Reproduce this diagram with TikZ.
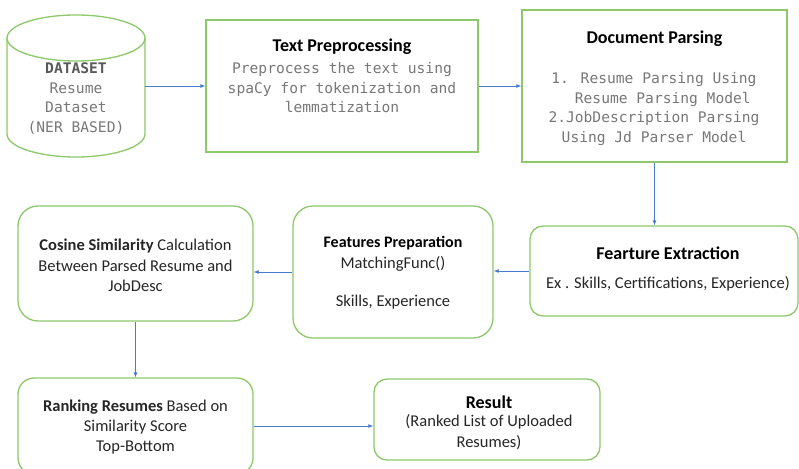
\documentclass[tikz,border=0pt]{standalone}
\usepackage{fontspec}
\setmainfont{Carlito}
\newfontfamily\monofont{DejaVu Sans Mono}
\usetikzlibrary{arrows.meta}
\definecolor{boxgreen}{HTML}{8DC86A}
\definecolor{arrowblue}{HTML}{4A7BD0}
\definecolor{monogrey}{HTML}{787878}
\definecolor{dsgrey}{HTML}{595959}
\definecolor{txt}{HTML}{262626}
\tikzset{
  box/.style={draw=boxgreen, line width=1.3pt, fill=white, inner sep=0pt},
  rbox/.style={box, rounded corners=#1},
  lbl/.style={align=center, inner sep=0pt, text=txt, font=\fontsize{16.5}{20.3}\selectfont},
  ttl/.style={inner sep=0pt, text=black, font=\fontsize{18}{21}\selectfont\bfseries},
  ttlsmall/.style={inner sep=0pt, text=black, font=\fontsize{16}{19}\selectfont\bfseries},
  mono/.style={align=center, inner sep=0pt, text=monogrey, font=\monofont\fontsize{14.6}{19.5}\selectfont},
  conn/.style={draw=arrowblue, line width=0.8pt, -{Latex[length=5pt,width=4pt]}}
}
\begin{document}
\begin{tikzpicture}[x=1pt,y=-1pt]
\useasboundingbox (0,0) rectangle (799,468);
% cylinder
\draw[draw=boxgreen, line width=1.3pt, fill=white]
  (7,38) -- (7,134) arc[start angle=180, end angle=0, x radius=69, y radius=23] -- (145,38);
\draw[draw=boxgreen, line width=1.3pt] (76,38) ellipse[x radius=69, y radius=23];
\node[inner sep=0pt, minimum width=138pt, minimum height=96pt] (db) at (76,86) {};
\node[mono] (dbT) at (76,98.5) {{\bfseries\color{dsgrey}DATASET}\\Resume\\Dataset\\(NER BASED)};

% boxes
\node[box, minimum width=272pt, minimum height=132pt] (tp) at (342,86) {};
\node[box, minimum width=265pt, minimum height=152pt] (dp) at (654.5,86) {};
\node[rbox=13pt, minimum width=268pt, minimum height=90pt] (fe) at (664,271) {};
\node[rbox=20pt, minimum width=200pt, minimum height=132pt] (fp) at (393,272) {};
\node[rbox=20pt, minimum width=235pt, minimum height=115pt] (cs) at (135.5,263.5) {};
\node[rbox=16pt, minimum width=235pt, minimum height=96pt] (rk) at (135.5,426) {};
\node[rbox=13pt, minimum width=226pt, minimum height=81pt] (rs) at (487,419.5) {};

% texts
\node[ttl] (tpT) at (342,47) {Text Preprocessing};
\node[mono] (tpB) at (342,88) {Preprocess the text using\\spaCy for tokenization and\\lemmatization};
\node[ttl] (dpT) at (654.5,39) {Document Parsing};
\node[mono] (dpB) at (654,109) {1. Resume Parsing Using\\\phantom{xx}Resume Parsing Model\\2.JobDescription Parsing\\Using Jd Parser Model};
\node[ttl] (feT) at (668,253) {Fearture Extraction};
\node[lbl] (feB) at (668,284) {Ex . Skills, Certifications, Experience)};
\node[ttlsmall] (fpT) at (393,243) {Features Preparation};
\node[lbl] (fpB1) at (393,264) {MatchingFunc()};
\node[lbl] (fpB2) at (393,302) {Skills, Experience};
\node[lbl] (csT) at (135.5,265.5) {\textbf{Cosine Similarity} Calculation\\Between Parsed Resume and\\JobDesc};
\node[lbl] (rkT) at (135.5,427) {\textbf{Ranking Resumes} Based on\\Similarity Score\\Top-Bottom};
\node[ttl] (rsT) at (489,402) {Result};
\node[lbl] (rsB) at (489,432) {(Ranked List of Uploaded\\Resumes)};

% connectors
\draw[conn] (db.east) -- (tp.west);
\draw[conn] (tp.east) -- (dp.west);
\draw[conn] (dp.south) -- (dp.south |- fe.north);
\draw[conn] (fe.west) -- (fe.west -| fp.east);
\draw[conn] (fp.west) -- (fp.west -| cs.east);
\draw[conn] (cs.south) -- (rk.north);
\draw[conn] (rk.east) -- (rk.east -| rs.west);
\end{tikzpicture}
\end{document}
